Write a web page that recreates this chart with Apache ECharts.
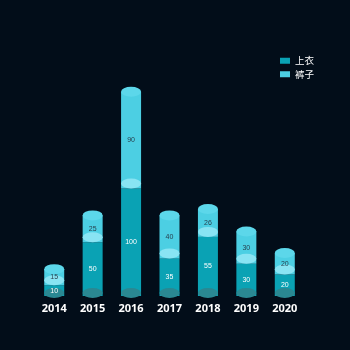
<!DOCTYPE html>
<html>
<head>
<meta charset="utf-8">
<script src="https://cdn.jsdelivr.net/npm/echarts@6/dist/echarts.min.js"></script>
<style>html,body{margin:0;padding:0;background:#020d19;}#c{width:350px;height:350px;}</style>
</head>
<body>
<div id="c"></div>
<script>
var years = ['2014','2015','2016','2017','2018','2019','2020'];
var shirts = [10, 50, 100, 35, 55, 30, 20];   // 上衣
var pants = [15, 25, 90, 40, 26, 30, 20];     // 裤子
var totals = years.map(function (_, i) { return shirts[i] + pants[i]; });

var chart = echarts.init(document.getElementById('c'));
chart.setOption({
  backgroundColor: '#020d19',
  animation: false,
  legend: {
    data: ['上衣', '裤子'],
    orient: 'vertical',
    right: 31,
    top: 51,
    itemWidth: 10,
    itemHeight: 6,
    itemGap: 4,
    icon: 'rect',
    textStyle: { color: '#ffffff', fontSize: 9.5, fontFamily: 'Noto Sans CJK SC' }
  },
  grid: { left: 35, right: 46, top: 81, bottom: 54 },
  xAxis: {
    type: 'category',
    data: years,
    axisLine: { show: false },
    axisTick: { show: false },
    axisLabel: { color: '#ffffff', fontSize: 11, fontWeight: 'bold', fontFamily: 'Noto Sans', margin: 7 }
  },
  yAxis: {
    type: 'value', min: 0, max: 200, show: false,
    splitLine: { show: false }
  },
  series: [
    {
      name: '上衣', type: 'bar', stack: 'all', barWidth: 20,
      itemStyle: { color: '#0aa2b4' },
      data: shirts, z: 2
    },
    {
      name: '裤子', type: 'bar', stack: 'all', barWidth: 20,
      itemStyle: { color: '#4ccfe3' },
      data: pants, z: 2
    },
    {
      name: 'bottom', type: 'pictorialBar', symbol: 'circle',
      symbolSize: [20, 10], symbolPosition: 'start', symbolOffset: [0, 2],
      barWidth: 20, itemStyle: { color: '#2a8892' }, z: 3,
      data: shirts
    },
    {
      name: 'middle', type: 'pictorialBar', symbol: 'circle',
      symbolSize: [20, 10], symbolPosition: 'end', symbolOffset: [0, -10],
      barWidth: 20, itemStyle: { color: '#89e4f3' }, z: 4,
      data: shirts
    },
    {
      name: 'top', type: 'pictorialBar', symbol: 'circle',
      symbolSize: [20, 10], symbolPosition: 'end', symbolOffset: [0, -5],
      barWidth: 20, itemStyle: { color: '#5cd7ea' }, z: 4,
      data: totals
    },
    {
      name: 'lbl1', type: 'bar', stack: 'lbl', barWidth: 20, barGap: '-100%',
      itemStyle: { color: 'rgba(0,0,0,0)' }, z: 10, silent: true,
      label: { show: true, position: 'inside', color: '#ffffff', fontSize: 7 },
      data: shirts
    },
    {
      name: 'lbl2', type: 'bar', stack: 'lbl', barWidth: 20, barGap: '-100%',
      itemStyle: { color: 'rgba(0,0,0,0)' }, z: 10, silent: true,
      label: { show: true, position: 'inside', color: '#28414f', fontSize: 7 },
      data: pants
    }
  ]
});
</script>
</body>
</html>
